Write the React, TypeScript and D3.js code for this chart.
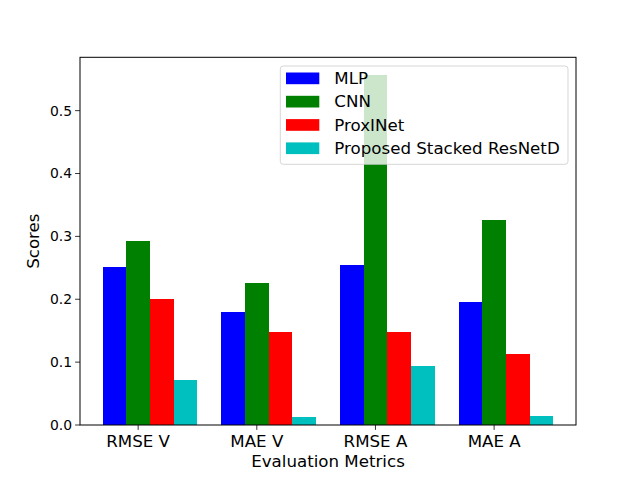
import React from 'react';
import * as d3 from 'd3';

const categories = ['RMSE V', 'MAE V', 'RMSE A', 'MAE A'];
const seriesNames = ['MLP', 'CNN', 'ProxINet', 'Proposed Stacked ResNetD'];
const seriesColors = ['#0000ff', '#008000', '#ff0000', '#00bfbf'];

const mlp = [0.252, 0.180, 0.255, 0.196];
const cnn = [0.292, 0.226, 0.557, 0.326];
const proxinet = [0.201, 0.148, 0.148, 0.113];
const resnetd = [0.072, 0.013, 0.094, 0.015];

const series = [mlp, cnn, proxinet, resnetd];
const yTicks = [0.0, 0.1, 0.2, 0.3, 0.4, 0.5];

const W = 640;
const H = 478;
const margin = { top: 57.3, right: 64, bottom: 53, left: 80 };
const barWidth = 0.2;
const font = 'DejaVu Sans, sans-serif';

const App: React.FC = () => {
  const plotW = W - margin.left - margin.right;
  const plotH = H - margin.top - margin.bottom;

  // same limits matplotlib picks: 5% padding around the bar extent
  const xMin = -1.5 * barWidth;
  const xMax = categories.length - 1 + 2.5 * barWidth;
  const pad = (xMax - xMin) * 0.05;
  const x = d3.scaleLinear().domain([xMin - pad, xMax + pad]).range([0, plotW]);

  const yMax = (d3.max(series.flat()) || 0) * 1.05;
  const y = d3.scaleLinear().domain([0, yMax]).range([plotH, 0]);

  const fs = 16.67;
  const legendX = 280.3 - margin.left;
  const legendY = 66 - margin.top;
  const rowGap = 23.3;

  return (
    <div style={{ position: 'absolute', left: 0, top: 0 }}>
      <svg width={W} height={H} style={{ display: 'block', background: '#fff' }}>
        <g transform={`translate(${margin.left},${margin.top})`}>
          {series.map((vals, si) =>
            vals.map((v, ci) => (
              <rect
                key={`${si}-${ci}`}
                x={x(ci + (si - 1.5) * barWidth)}
                y={y(v)}
                width={x(barWidth) - x(0)}
                height={y(0) - y(v)}
                fill={seriesColors[si]}
                shapeRendering="crispEdges"
              />
            ))
          )}

          <rect x={0} y={0} width={plotW} height={plotH} fill="none" stroke="#000" strokeWidth={1} />

          {yTicks.map((t) => (
            <g key={t} transform={`translate(0,${y(t)})`}>
              <line x1={-4.9} x2={0} stroke="#000" strokeWidth={0.8} />
              <text x={-8} dy="0.35em" textAnchor="end" fontFamily={font} fontSize={13.9} fill="#000">
                {t.toFixed(1)}
              </text>
            </g>
          ))}

          {categories.map((c, ci) => (
            <g key={c} transform={`translate(${x(ci)},${plotH})`}>
              <line y1={0} y2={4.9} stroke="#000" strokeWidth={0.8} />
              <text y={22} textAnchor="middle" fontFamily={font} fontSize={fs} fill="#000">
                {c}
              </text>
            </g>
          ))}

          <text x={plotW / 2} y={plotH + 42} textAnchor="middle" fontFamily={font} fontSize={fs} fill="#000">
            Evaluation Metrics
          </text>
          <text
            transform={`translate(${33 - margin.left},${plotH / 2}) rotate(-90)`}
            textAnchor="middle"
            dy="0.35em"
            fontFamily={font}
            fontSize={fs}
            fill="#000"
          >
            Scores
          </text>

          {/* legend */}
          <g transform={`translate(${legendX},${legendY})`}>
            <rect
              width={287.7}
              height={98.3}
              rx={3}
              fill="#fff"
              fillOpacity={0.8}
              stroke="#cccccc"
              strokeOpacity={0.8}
              strokeWidth={1}
            />
            {seriesNames.map((name, i) => (
              <g key={name} transform={`translate(0,${12.3 + i * rowGap})`}>
                <rect x={5.7} y={-5.8} width={33.3} height={11.7} fill={seriesColors[i]} />
                <text x={54} dy="0.35em" fontFamily={font} fontSize={fs} fill="#000">
                  {name}
                </text>
              </g>
            ))}
          </g>
        </g>
      </svg>
    </div>
  );
};

export default App;
